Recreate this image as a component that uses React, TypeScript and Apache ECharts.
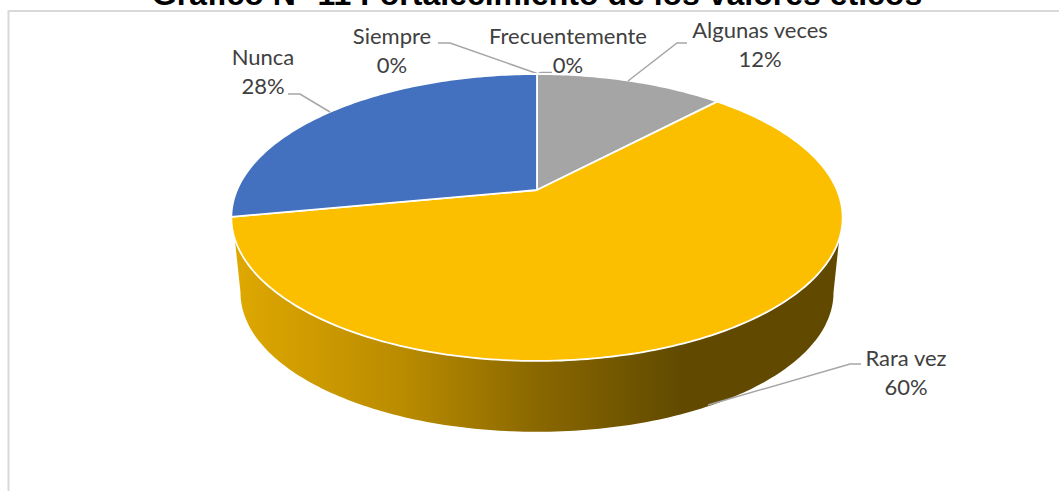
import React, { useEffect, useRef } from "react";
import * as echarts from "echarts";

const titleText = "Gráfico N° 11 Fortalecimiento de los valores éticos";
const categories = ["Siempre", "Frecuentemente", "Algunas veces", "Rara vez", "Nunca"];
const values = [0, 0, 12, 60, 28];

const sliceColors = ["#5b9bd5", "#ed7d31", "#a5a5a5", "#fcbf00", "#4371c0"];
// Label placement and leader lines (layout only)
const labelCentres = [[392, 50], [568, 50], [760, 44], [906, 371.5], [263, 71]];
const leaders = [
  [[438, 43], [450, 43], [537, 73.5]],
  [[537, 74], [541, 72.5], [552, 72.5]],
  [[628, 81], [677, 43], [687, 43]],
  [[708, 405], [850, 364], [861, 364]],
  [[330, 112], [300, 94], [288, 94]],
];

// Perspective projection of the tilted disc
const CX = 537, TOP_Y = 190, BOTTOM_Y = 266, A = 300, B = 138.2, K = 0.1916, BOTTOM_SCALE = 0.97;
const project = (deg: number, apexY: number, s: number) => {
  const t = (deg * Math.PI) / 180;
  const u = Math.sin(t), v = Math.cos(t);
  const d = 1 + K * v;
  return [CX + (s * A * u) / d, apexY - (s * B * v) / d];
};
const arc = (from: number, to: number, apexY: number, s: number) => {
  const pts: number[][] = [];
  const n = Math.max(1, Math.ceil(Math.abs(to - from)));
  for (let i = 0; i <= n; i++) pts.push(project(from + ((to - from) * i) / n, apexY, s));
  return pts;
};

const total = values.reduce((a, b) => a + b, 0);
const startOf = (i: number) => (values.slice(0, i).reduce((a, b) => a + b, 0) / total) * 360;

const renderItem = (params: any, api: any) => {
  const i = params.dataIndex;
  const val = api.value(0);
  const a0 = startOf(i);
  const a1 = a0 + (val / total) * 360;
  const children: any[] = [];
  if (val > 0) {
    const topFrom = Math.max(a0, 109.4), topTo = Math.min(a1, 250.6);
    if (topTo > topFrom) {
      const side = [
        ...arc(topFrom, topTo, TOP_Y, 1),
        ...arc(Math.min(a1, 259), Math.max(a0, 101), BOTTOM_Y, BOTTOM_SCALE),
      ];
      children.push({
        type: "polygon",
        shape: { points: side },
        style: {
          fill: {
            type: "linear", x: 0, y: 0, x2: 1, y2: 0,
            colorStops: [
              { offset: 0, color: "#dfa800" },
              { offset: 0.28, color: "#b98b00" },
              { offset: 0.5, color: "#8a6800" },
              { offset: 0.74, color: "#614a00" },
              { offset: 1, color: "#614a00" },
            ],
          },
        },
      });
    }
    children.push({
      type: "polygon",
      shape: { points: [[CX, TOP_Y], ...arc(a0, a1, TOP_Y, 1)] },
      style: { fill: sliceColors[i], stroke: "#ffffff", lineWidth: 1.8, lineJoin: "round" },
    });
  }
  children.push({
    type: "polyline",
    shape: { points: leaders[i] },
    style: { fill: "none", stroke: "#a6a6a6", lineWidth: 1.5 },
  });
  children.push({
    type: "text",
    x: labelCentres[i][0],
    y: labelCentres[i][1],
    style: {
      text: `${categories[i]}\n${Math.round((val / total) * 100)}%`,
      fill: "#404040",
      font: '22px Lato',
      lineHeight: 29,
      align: "center",
      verticalAlign: "middle",
    },
  });
  return { type: "group", children };
};

export default function App() {
  const ref = useRef<HTMLDivElement>(null);
  useEffect(() => {
    document.body.style.margin = "0";
    const chart = echarts.init(ref.current!, null, { renderer: "svg" });
    chart.setOption({
      animation: false,
      backgroundColor: "#ffffff",
      title: {
        text: titleText,
        left: 532,
        textAlign: "center",
        top: -27,
        textStyle: { fontFamily: "Liberation Sans", fontWeight: "bold", fontSize: 32, color: "#000000" },
      },
      graphic: [
        {
          type: "polyline",
          silent: true,
          shape: { points: [[8.5, 491], [8.5, 11], [1059, 11]] },
          style: { fill: "none", stroke: "#d9d9d9", lineWidth: 2 },
        },
      ],
      series: [
        {
          type: "custom",
          coordinateSystem: "none",
          clip: false,
          renderItem,
          data: categories.map((name, i) => ({ name, value: [values[i]] })),
        },
      ],
    });
    return () => chart.dispose();
  }, []);
  return <div ref={ref} style={{ width: 1059, height: 491 }} />;
}
